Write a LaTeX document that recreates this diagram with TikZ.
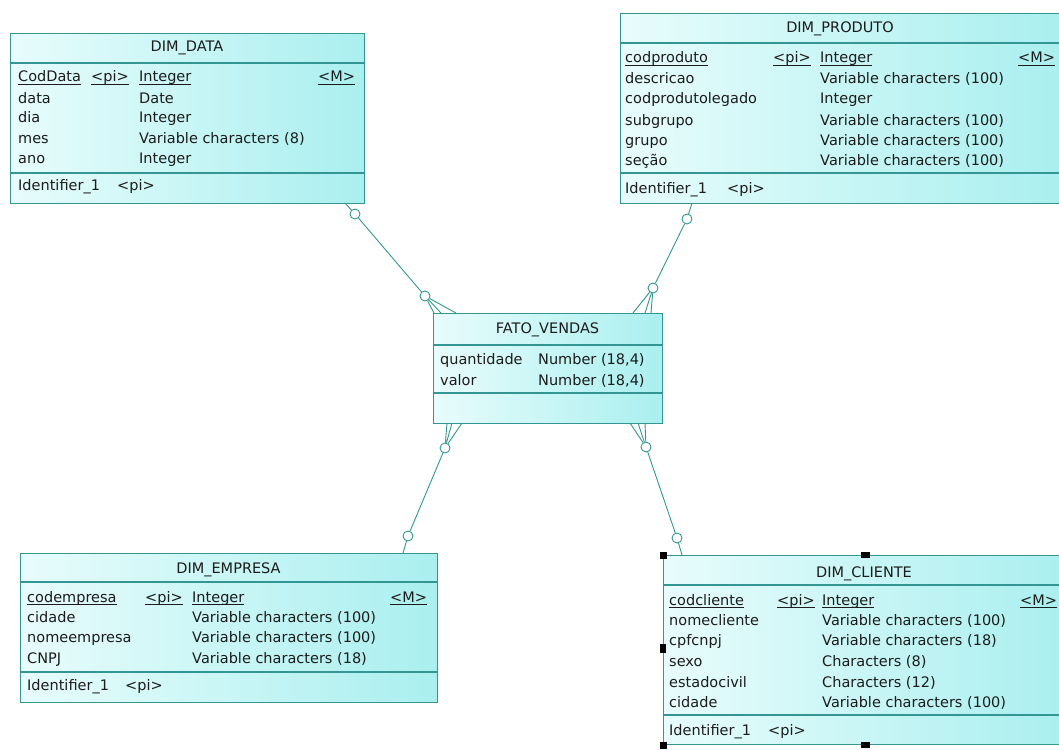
\documentclass[tikz,border=0pt]{standalone}
\usepackage{fontspec}
\setmainfont{DejaVu Sans}
\definecolor{edge}{RGB}{52,150,146}
\definecolor{fillL}{RGB}{232,252,252}
\definecolor{fillR}{RGB}{170,239,239}
\definecolor{ink}{RGB}{28,28,28}
\newcommand{\cellfont}{\fontsize{14.5}{17}\selectfont}
% key attributes: underline at a fixed depth below the baseline
\newcommand{\keyline}[1]{\setbox0\hbox{#1}\rlap{\vrule width\wd0 height -1.6pt depth 2.6pt}\box0}

\begin{document}
\begin{tikzpicture}[x=1pt,y=-1pt,
  entity/.style={draw=edge, line width=1.2pt, left color=fillL, right color=fillR,
                 anchor=north west, inner sep=0pt},
  rule/.style={draw=edge, line width=1.1pt},
  lbl/.style={anchor=base west, inner sep=0pt, text=ink, font=\cellfont},
  ttl/.style={anchor=base, inner sep=0pt, text=ink, font=\cellfont},
  conn/.style={draw=edge, line width=0.9pt},
  ring/.style={circle, draw=edge, fill=white, line width=0.9pt, minimum size=10pt, inner sep=0pt},
  grip/.style={fill=black, minimum size=7pt, inner sep=0pt}
]
\useasboundingbox[fill=white] (0,0) rectangle (1059,749);

% ---------- DIM_DATA ----------
\node[entity, minimum width=354pt, minimum height=170pt] (data) at (10,33) {};
\draw[rule] (10,63) -- (364,63);
\draw[rule] (10,173) -- (364,173);
\node[ttl] (data-t) at (187,52) {DIM\_DATA};
\node[lbl] (data-n1) at (18,82)  {\keyline{CodData}};
\node[lbl] (data-k1) at (91,82)  {\keyline{<pi>}};
\node[lbl] (data-y1) at (139,82) {\keyline{Integer}};
\node[lbl] (data-m1) at (318,82) {\keyline{<M>}};
\node[lbl] (data-n2) at (18,103) {data};
\node[lbl] (data-y2) at (139,103) {Date};
\node[lbl] (data-n3) at (18,123) {dia};
\node[lbl] (data-y3) at (139,123) {Integer};
\node[lbl] (data-n4) at (18,143) {mes};
\node[lbl] (data-y4) at (139,143) {Variable characters (8)};
\node[lbl] (data-n5) at (18,163) {ano};
\node[lbl] (data-y5) at (139,163) {Integer};
\node[lbl] (data-i)  at (18,190) {Identifier\_1};
\node[lbl] (data-ik) at (117,190) {<pi>};

% ---------- DIM_PRODUTO ----------
\node[entity, minimum width=440pt, minimum height=190pt] (prod) at (620,13) {};
\draw[rule] (620,43) -- (1060,43);
\draw[rule] (620,173) -- (1060,173);
\node[ttl] (prod-t) at (840,33) {DIM\_PRODUTO};
\node[lbl] (prod-n1) at (625,63)  {\keyline{codproduto}};
\node[lbl] (prod-k1) at (773,63)  {\keyline{<pi>}};
\node[lbl] (prod-y1) at (820,63)  {\keyline{Integer}};
\node[lbl] (prod-m1) at (1018,63) {\keyline{<M>}};
\node[lbl] (prod-n2) at (625,84)  {descricao};
\node[lbl] (prod-y2) at (820,84)  {Variable characters (100)};
\node[lbl] (prod-n3) at (625,104) {codprodutolegado};
\node[lbl] (prod-y3) at (820,104) {Integer};
\node[lbl] (prod-n4) at (625,125) {subgrupo};
\node[lbl] (prod-y4) at (820,125) {Variable characters (100)};
\node[lbl] (prod-n5) at (625,145) {grupo};
\node[lbl] (prod-y5) at (820,145) {Variable characters (100)};
\node[lbl] (prod-n6) at (625,165) {seção};
\node[lbl] (prod-y6) at (820,165) {Variable characters (100)};
\node[lbl] (prod-i)  at (625,193) {Identifier\_1};
\node[lbl] (prod-ik) at (727,193) {<pi>};

% ---------- FATO_VENDAS ----------
\node[entity, minimum width=229pt, minimum height=110pt] (fato) at (433,313) {};
\draw[rule] (433,345) -- (662,345);
\draw[rule] (433,393) -- (662,393);
\node[ttl] (fato-t) at (547.5,333) {FATO\_VENDAS};
\node[lbl] (fato-n1) at (440,364) {quantidade};
\node[lbl] (fato-y1) at (538,364) {Number (18,4)};
\node[lbl] (fato-n2) at (440,385) {valor};
\node[lbl] (fato-y2) at (538,385) {Number (18,4)};

% ---------- DIM_EMPRESA ----------
\node[entity, minimum width=417pt, minimum height=149pt] (emp) at (20,553) {};
\draw[rule] (20,582) -- (437,582);
\draw[rule] (20,672) -- (437,672);
\node[ttl] (emp-t) at (228.5,573) {DIM\_EMPRESA};
\node[lbl] (emp-n1) at (27,602)  {\keyline{codempresa}};
\node[lbl] (emp-k1) at (145,602) {\keyline{<pi>}};
\node[lbl] (emp-y1) at (192,602) {\keyline{Integer}};
\node[lbl] (emp-m1) at (390,602) {\keyline{<M>}};
\node[lbl] (emp-n2) at (27,622)  {cidade};
\node[lbl] (emp-y2) at (192,622) {Variable characters (100)};
\node[lbl] (emp-n3) at (27,642)  {nomeempresa};
\node[lbl] (emp-y3) at (192,642) {Variable characters (100)};
\node[lbl] (emp-n4) at (27,663)  {CNPJ};
\node[lbl] (emp-y4) at (192,663) {Variable characters (18)};
\node[lbl] (emp-i)  at (27,690)  {Identifier\_1};
\node[lbl] (emp-ik) at (125,690) {<pi>};

% ---------- DIM_CLIENTE ----------
\node[entity, minimum width=402pt, minimum height=189pt] (cli) at (663,555) {};
\draw[rule] (663,585) -- (1065,585);
\draw[rule] (663,715) -- (1065,715);
\node[ttl] (cli-t) at (864,577) {DIM\_CLIENTE};
\node[lbl] (cli-n1) at (669,605)  {\keyline{codcliente}};
\node[lbl] (cli-k1) at (777,605)  {\keyline{<pi>}};
\node[lbl] (cli-y1) at (822,605)  {\keyline{Integer}};
\node[lbl] (cli-m1) at (1020,605) {\keyline{<M>}};
\node[lbl] (cli-n2) at (669,625)  {nomecliente};
\node[lbl] (cli-y2) at (822,625)  {Variable characters (100)};
\node[lbl] (cli-n3) at (669,645)  {cpfcnpj};
\node[lbl] (cli-y3) at (822,645)  {Variable characters (18)};
\node[lbl] (cli-n4) at (669,666)  {sexo};
\node[lbl] (cli-y4) at (822,666)  {Characters (8)};
\node[lbl] (cli-n5) at (669,687)  {estadocivil};
\node[lbl] (cli-y5) at (822,687)  {Characters (12)};
\node[lbl] (cli-n6) at (669,707)  {cidade};
\node[lbl] (cli-y6) at (822,707)  {Variable characters (100)};
\node[lbl] (cli-i)  at (669,735)  {Identifier\_1};
\node[lbl] (cli-ik) at (768,735)  {<pi>};

% selection grips around DIM_CLIENTE
\node[grip] (g1) at (663,555) {};
\node[grip, minimum width=9pt, minimum height=6pt] (g2) at (865,555) {};
\node[grip, minimum width=6pt, minimum height=9pt] (g3) at (663,648) {};
\node[grip] (g4) at (663,745) {};
\node[grip, minimum width=9pt, minimum height=6pt] (g5) at (865,745) {};

% ---------- relationship DIM_DATA -- FATO_VENDAS ----------
\coordinate (a0) at (345,203);
\node[ring] (a1) at (355,214) {};
\node[ring] (a2) at (425,296) {};
\coordinate (af1) at (434,313);
\coordinate (af2) at (441,313);
\coordinate (af3) at (456,313);
\draw[conn] (a0) -- (a1) -- (a2);
\draw[conn] (a2) -- (af1) (a2) -- (af2) (a2) -- (af3);

% ---------- relationship DIM_PRODUTO -- FATO_VENDAS ----------
\coordinate (b0) at (692,203);
\node[ring] (b1) at (687,219) {};
\node[ring] (b2) at (653,288) {};
\coordinate (bf1) at (633,313);
\coordinate (bf2) at (645,313);
\coordinate (bf3) at (651,313);
\draw[conn] (b0) -- (b1) -- (b2);
\draw[conn] (b2) -- (bf1) (b2) -- (bf2) (b2) -- (bf3);

% ---------- relationship FATO_VENDAS -- DIM_EMPRESA ----------
\coordinate (c0) at (403,553);
\node[ring] (c1) at (408,536) {};
\node[ring] (c2) at (445,448) {};
\coordinate (cf1) at (447,423);
\coordinate (cf2) at (452,423);
\coordinate (cf3) at (462,423);
\draw[conn] (c0) -- (c1) -- (c2);
\draw[conn] (c2) -- (cf1) (c2) -- (cf2) (c2) -- (cf3);

% ---------- relationship FATO_VENDAS -- DIM_CLIENTE ----------
\coordinate (d0) at (682,555);
\node[ring] (d1) at (677,538) {};
\node[ring] (d2) at (646,447) {};
\coordinate (df1) at (630,423);
\coordinate (df2) at (638,423);
\coordinate (df3) at (645,423);
\draw[conn] (d0) -- (d1) -- (d2);
\draw[conn] (d2) -- (df1) (d2) -- (df2) (d2) -- (df3);
\end{tikzpicture}
\end{document}
